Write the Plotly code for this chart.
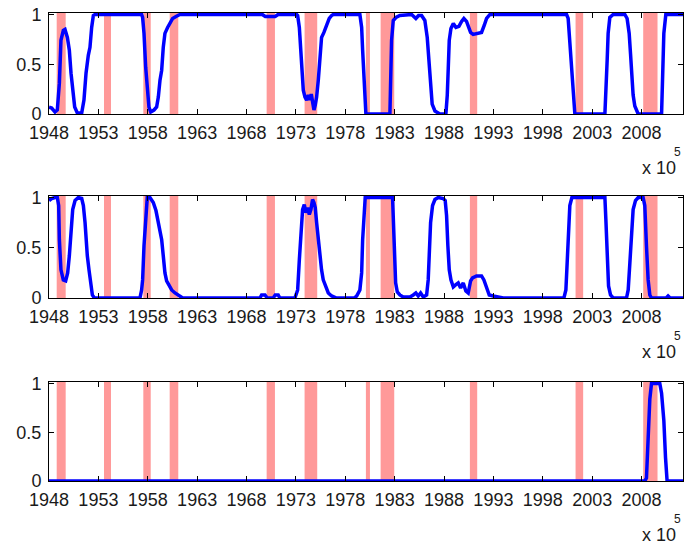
import plotly.graph_objects as go

# ---------------- data ----------------
rec_start = [1948.78, 1953.57, 1957.55, 1960.22, 1970.04, 1973.88,
             1980.09, 1981.58, 1990.62, 2001.32, 2008.17]
rec_end = [1949.69, 1954.28, 1958.30, 1961.09, 1970.88, 1975.16,
           1980.50, 1982.96, 1991.36, 2002.09, 2009.62]

p1_x = [1948.0, 1948.27, 1948.61, 1948.84, 1949.05, 1949.21, 1949.45, 1949.62,
        1949.86, 1950.06, 1950.23, 1950.40, 1950.60, 1950.87, 1951.31, 1951.54,
        1951.75, 1951.98, 1952.15, 1952.32, 1952.49, 1952.66, 1957.38, 1957.48,
        1957.62, 1957.79, 1957.95, 1958.12, 1958.30, 1958.63, 1958.90, 1959.07,
        1959.24, 1959.41, 1959.57, 1959.74, 1960.01, 1960.25, 1960.52, 1960.86,
        1961.26, 1969.6, 1969.9, 1970.9, 1971.2, 1973.08, 1973.18, 1973.35,
        1973.48, 1973.61, 1973.75, 1973.92, 1974.09, 1974.26, 1974.42, 1974.56,
        1974.69, 1974.83, 1974.96, 1975.10, 1975.27, 1975.43, 1975.60, 1975.84,
        1976.11, 1976.38, 1976.62, 1976.79, 1979.48, 1979.66, 1979.76, 1979.89,
        1979.99, 1980.09, 1982.52, 1982.59, 1982.69, 1982.86, 1983.13, 1983.53,
        1984.21, 1984.72, 1985.15, 1985.42, 1985.73, 1986.06, 1986.30, 1986.47,
        1986.64, 1986.80, 1987.08, 1987.58, 1988.19, 1988.33, 1988.43, 1988.53,
        1988.70, 1988.94, 1989.21, 1989.51, 1989.78, 1990.01, 1990.28, 1990.48,
        1990.69, 1990.95, 1991.36, 1991.80, 1992.07, 1992.31, 1992.65, 2000.41,
        2000.57, 2000.67, 2000.81, 2000.95, 2001.08, 2001.25, 2004.29, 2004.39,
        2004.52, 2004.62, 2004.79, 2005.13, 2006.31, 2006.54, 2006.75, 2006.89,
        2007.02, 2007.15, 2007.32, 2007.66, 2010.03, 2010.13, 2010.26, 2010.46,
        2012.2]
p1_y = [0.07, 0.06, 0.02, 0.04, 0.31, 0.74, 0.84, 0.85,
        0.77, 0.64, 0.41, 0.21, 0.07, 0.01, 0.01, 0.14,
        0.41, 0.59, 0.67, 0.87, 0.99, 1.0, 1.0, 0.97,
        0.81, 0.47, 0.21, 0.07, 0.02, 0.04, 0.07, 0.17,
        0.34, 0.44, 0.67, 0.81, 0.87, 0.92, 0.96, 0.98,
        1.0, 1.0, 0.98, 0.98, 1.0, 1.0, 0.99, 0.87,
        0.64, 0.41, 0.24, 0.17, 0.14, 0.19, 0.14, 0.20,
        0.09, 0.04, 0.09, 0.17, 0.34, 0.54, 0.77, 0.82,
        0.89, 0.96, 0.99, 1.0, 1.0, 0.87, 0.64, 0.34,
        0.07, 0.0, 0.0, 0.31, 0.74, 0.94, 0.97, 0.99,
        1.0, 1.0, 0.96, 0.99, 0.99, 0.94, 0.77, 0.54,
        0.27, 0.10, 0.03, 0.0, 0.0, 0.19, 0.46, 0.74,
        0.86, 0.91, 0.87, 0.88, 0.93, 0.96, 0.93, 0.88,
        0.82, 0.80, 0.81, 0.82, 0.89, 0.96, 1.0, 1.0,
        0.96, 0.81, 0.60, 0.34, 0.13, 0.0, 0.0, 0.19,
        0.54, 0.81, 0.97, 1.0, 1.0, 0.96, 0.81, 0.60,
        0.40, 0.19, 0.08, 0.0, 0.0, 0.31, 0.81, 1.0,
        1.0]

p2_x = [1948.0, 1948.27, 1948.61, 1948.84, 1948.98, 1949.05, 1949.21, 1949.45,
        1949.69, 1949.89, 1950.06, 1950.23, 1950.40, 1950.64, 1950.97, 1951.31,
        1951.48, 1951.65, 1951.75, 1951.88, 1952.05, 1952.22, 1952.39, 1952.59,
        1957.21, 1957.38, 1957.48, 1957.62, 1957.79, 1957.95, 1958.22, 1958.56,
        1958.83, 1959.07, 1959.24, 1959.41, 1959.57, 1959.74, 1959.91, 1960.18,
        1960.42, 1960.76, 1961.09, 1961.54, 1969.36, 1969.53, 1969.87, 1970.10,
        1970.70, 1970.91, 1971.21, 1971.38, 1972.90, 1973.18, 1973.35, 1973.51,
        1973.68, 1973.85, 1974.02, 1974.19, 1974.36, 1974.52, 1974.69, 1974.83,
        1974.96, 1975.10, 1975.27, 1975.43, 1975.60, 1975.77, 1976.04, 1976.28,
        1976.62, 1977.12, 1978.9, 1979.15, 1979.48, 1979.66, 1979.76, 1979.89,
        1980.02, 1982.79, 1982.86, 1982.96, 1983.10, 1983.27, 1983.53, 1983.87,
        1984.55, 1984.89, 1985.15, 1985.39, 1985.63, 1985.90, 1986.24, 1986.40,
        1986.50, 1986.64, 1986.84, 1987.08, 1987.41, 1987.91, 1988.12, 1988.26,
        1988.39, 1988.53, 1988.70, 1988.94, 1989.17, 1989.44, 1989.68, 1989.95,
        1990.21, 1990.45, 1990.69, 1990.89, 1991.29, 1991.80, 1992.04, 1992.31,
        1992.58, 1992.98, 1993.99, 2000.14, 2000.34, 2000.47, 2000.61, 2000.74,
        2000.95, 2004.29, 2004.39, 2004.52, 2004.66, 2004.86, 2005.13, 2006.48,
        2006.65, 2006.82, 2006.99, 2007.15, 2007.39, 2007.66, 2008.16, 2008.33,
        2008.50, 2008.67, 2008.84, 2009.01, 2010.5, 2010.69, 2010.9, 2012.2]
p2_y = [0.97, 0.99, 1.0, 1.0, 0.92, 0.58, 0.28, 0.18,
        0.17, 0.25, 0.42, 0.68, 0.88, 0.97, 1.0, 0.99,
        0.92, 0.75, 0.52, 0.42, 0.28, 0.15, 0.03, 0.0,
        0.0, 0.08, 0.18, 0.52, 0.85, 1.0, 1.0, 0.95,
        0.87, 0.75, 0.65, 0.58, 0.42, 0.25, 0.17, 0.12,
        0.08, 0.05, 0.03, 0.0, 0.0, 0.03, 0.03, 0.0,
        0.0, 0.03, 0.03, 0.0, 0.0, 0.08, 0.38, 0.65,
        0.88, 0.93, 0.85, 0.90, 0.83, 0.88, 0.98, 0.95,
        0.90, 0.75, 0.58, 0.42, 0.28, 0.18, 0.12, 0.05,
        0.02, 0.0, 0.0, 0.02, 0.08, 0.25, 0.58, 0.88,
        1.0, 1.0, 0.78, 0.35, 0.15, 0.06, 0.03, 0.01,
        0.01, 0.03, 0.05, 0.02, 0.05, 0.01, 0.03, 0.18,
        0.42, 0.75, 0.92, 0.98, 1.0, 0.99, 0.97, 0.82,
        0.52, 0.28, 0.18, 0.11, 0.13, 0.15, 0.10, 0.15,
        0.07, 0.05, 0.17, 0.20, 0.22, 0.22, 0.18, 0.10,
        0.03, 0.02, 0.0, 0.0, 0.08, 0.35, 0.68, 0.92,
        1.0, 1.0, 0.78, 0.35, 0.12, 0.03, 0.0, 0.0,
        0.08, 0.35, 0.68, 0.88, 0.97, 1.0, 1.0, 0.92,
        0.52, 0.18, 0.03, 0.0, 0.0, 0.02, 0.0, 0.0]

p3_x = [1948.0, 2008.33, 2008.50, 2008.60, 2008.71, 2008.84, 2009.01, 2009.85,
        2010.03, 2010.26, 2010.43, 2010.59, 2012.2]
p3_y = [0.0, 0.0, 0.03, 0.27, 0.62, 0.84, 1.0, 1.0,
        0.90, 0.62, 0.24, 0.0, 0.0]

tick_years = [1948, 1953, 1958, 1963, 1968, 1973, 1978, 1983, 1988, 1993,
              1998, 2003, 2008]
tick_text = [str(t) for t in tick_years]
x_range = [1948, 2012.2]

series = [(p1_x, p1_y), (p2_x, p2_y), (p3_x, p3_y)]

# ---------------- figure ----------------
W, H = 684, 547
L, R = 49, 1
panels_px = [(13, 114), (196, 298), (382, 481)]  # top, bottom in pixels
FONT = "Liberation Sans, Arial, sans-serif"
SHADE = "#FF9999"
BLUE = "#0000FF"

fig = go.Figure()
layout = dict(
    width=W, height=H,
    margin=dict(l=L, r=R, t=0, b=0, autoexpand=False),
    paper_bgcolor="white", plot_bgcolor="white",
    showlegend=False,
    font=dict(family=FONT, size=18, color="#1a1a1a"),
)

shapes = []
annotations = []
for i, ((xs, ys), (top, bot)) in enumerate(zip(series, panels_px)):
    n = "" if i == 0 else str(i + 1)
    xa = "x" + n
    ya = "y" + n
    fig.add_trace(go.Scatter(x=xs, y=ys, mode="lines", xaxis=xa, yaxis=ya,
                             line=dict(color=BLUE, width=3.5),
                             hoverinfo="skip"))
    dom = [1 - bot / H, 1 - top / H]
    axcommon = dict(showline=True, linecolor="#000000", linewidth=1,
                    mirror="allticks", ticks="inside", ticklen=5,
                    tickcolor="#000000", showgrid=False, zeroline=False)
    layout["xaxis" + n] = dict(range=x_range, tickvals=tick_years,
                               ticktext=tick_text, anchor=ya, domain=[0, 1],
                               ticklabelstandoff=2, **axcommon)
    layout["yaxis" + n] = dict(range=[0, 1.015], tickvals=[0, 0.5, 1],
                               ticktext=["0", "0.5", "1"], anchor=xa,
                               domain=dom, ticklabelstandoff=3, **axcommon)
    for s, e in zip(rec_start, rec_end):
        shapes.append(dict(type="rect", xref=xa, yref=ya + " domain",
                           x0=s, x1=e, y0=0, y1=1, fillcolor=SHADE,
                           line=dict(width=0), layer="below"))
    annotations.append(dict(text="x 10", xref="paper", yref="paper",
                            x=(640 - L) / (W - L - R), y=1 - (bot + 54) / H,
                            xanchor="left", yanchor="middle", showarrow=False,
                            font=dict(size=18, family=FONT, color="#1a1a1a")))
    annotations.append(dict(text="5", xref="paper", yref="paper",
                            x=(672 - L) / (W - L - R), y=1 - (bot + 38) / H,
                            xanchor="left", yanchor="middle", showarrow=False,
                            font=dict(size=12, family=FONT, color="#1a1a1a")))

layout["shapes"] = shapes
layout["annotations"] = annotations
fig.update_layout(**layout)
fig.write_html("out.html",
               config={"displayModeBar": False, "staticPlot": True},
               post_script="document.body.style.margin='0';"
                           "document.body.style.overflow='hidden';")
